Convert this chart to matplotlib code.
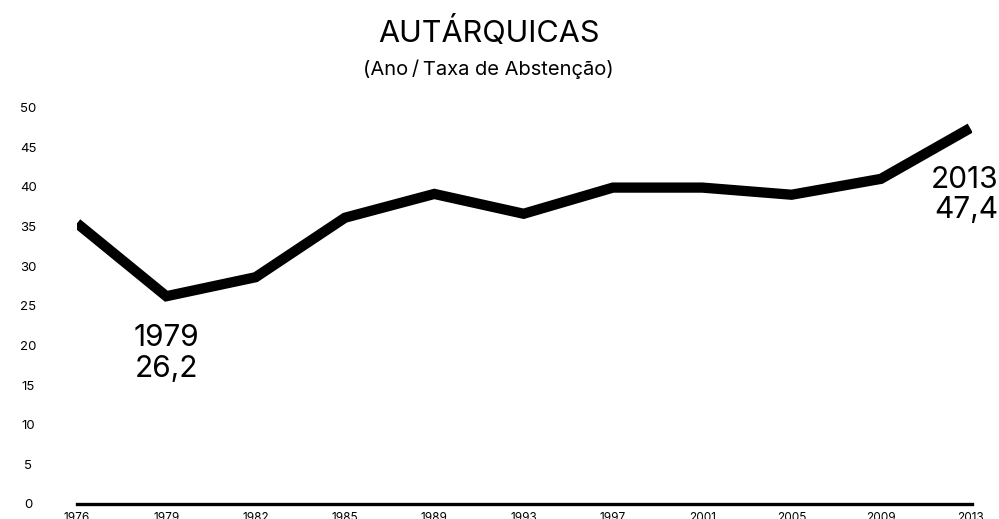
import numpy as np
import matplotlib
matplotlib.use("Agg")
import matplotlib.pyplot as plt

# data (abstention rate, local elections)
years = ["1976", "1979", "1982", "1985", "1989", "1993", "1997", "2001", "2005", "2009", "2013"]
abstention = [35.4, 26.2, 28.6, 36.1, 39.1, 36.6, 39.9, 39.9, 39.0, 41.0, 47.4]
yticks = [0, 5, 10, 15, 20, 25, 30, 35, 40, 45, 50]

plt.rcParams['font.family'] = ['Inter', 'DejaVu Sans']

fig = plt.figure(figsize=(9.99, 5.19), dpi=100)
ax = fig.add_axes([77/999, 15/519, 895/999, 396.5/519])

x = np.arange(len(years))
ax.plot(x, abstention, color='black', lw=7.4, solid_joinstyle='miter', solid_capstyle='butt')

ax.set_xlim(0, 10.02)
ax.set_ylim(0, 50)
ax.set_xticks(x)
ax.set_xticklabels(years, fontsize=8.5)
ax.set_yticks(yticks)
ax.set_yticklabels([str(v) for v in yticks], fontsize=9.5, ha='center')

for s in ['top', 'right', 'left']:
    ax.spines[s].set_visible(False)
ax.spines['bottom'].set_linewidth(2.4)
ax.tick_params(axis='x', length=0, pad=6)
ax.tick_params(axis='y', length=0, pad=35)

# highlight labels
i = years.index("1979")
ax.annotate("1979\n" + str(abstention[i]).replace('.', ','), (x[i], abstention[i]),
            xytext=(0, -20), textcoords='offset points', ha='center', va='top',
            fontsize=21.5, linespacing=1.12, annotation_clip=False)
j = years.index("2013")
ax.annotate("2013\n" + str(abstention[j]).replace('.', ','), (x[j], abstention[j]),
            xytext=(20, -27), textcoords='offset points', ha='right', va='top',
            fontsize=21.5, linespacing=1.12, annotation_clip=False)

fig.text(0.489, 0.937, "AUTÁRQUICAS", ha='center', va='center', fontsize=22)
fig.text(0.489, 0.866, "(Ano\u2009/\u2009Taxa de Abstenção)", ha='center', va='center', fontsize=14.5)

fig.savefig("out.png", dpi=100)
